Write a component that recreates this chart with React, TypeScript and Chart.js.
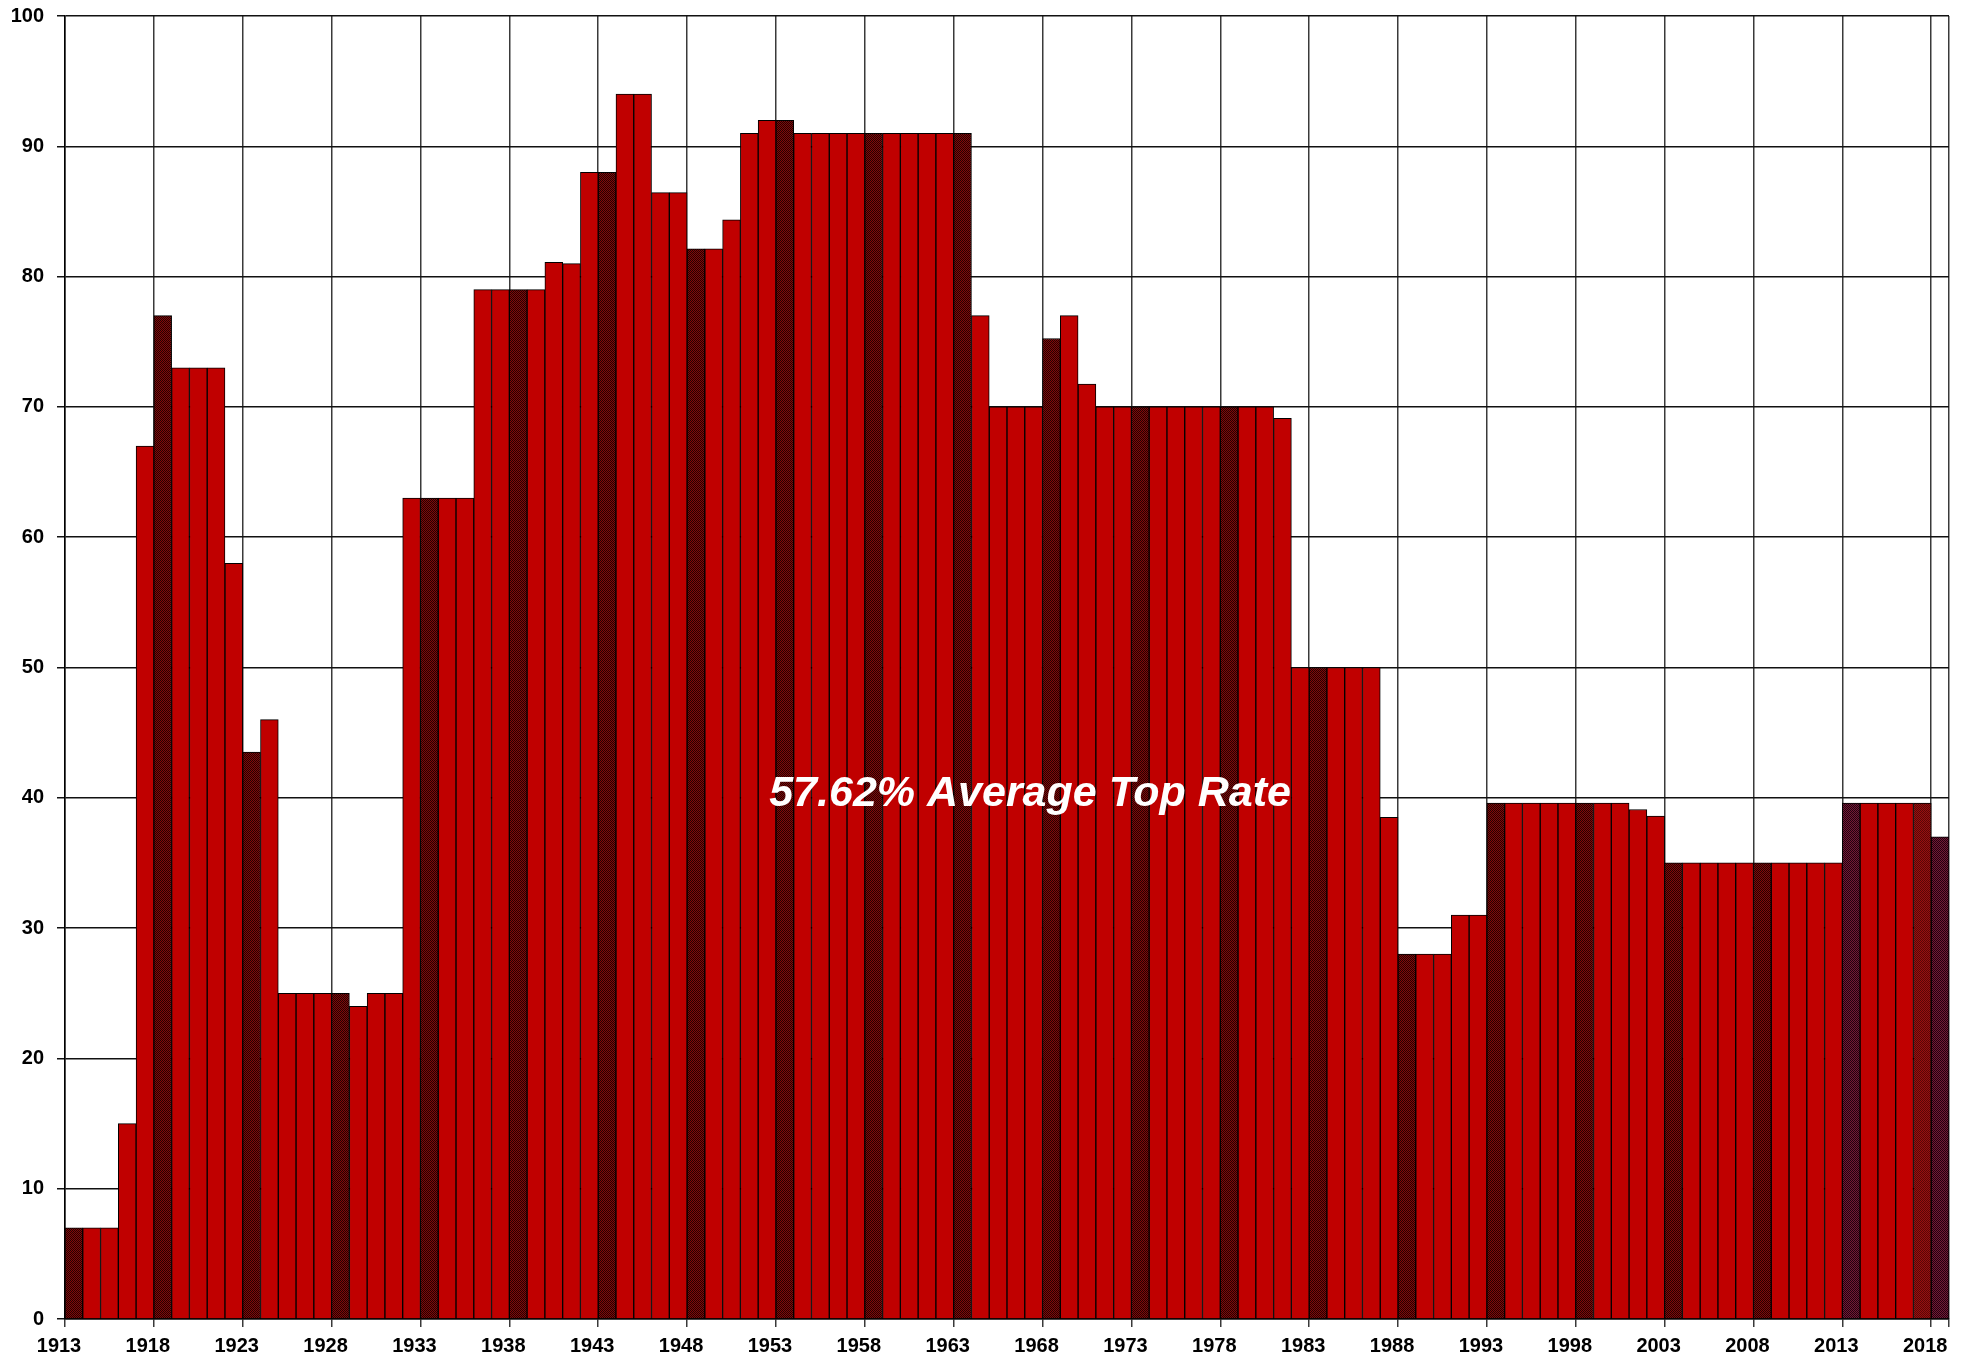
import React, { useEffect, useRef } from "react";
import { Chart, registerables } from "chart.js";

Chart.register(...registerables);

const years: number[] = [
  1913, 1914, 1915, 1916, 1917, 1918, 1919, 1920, 1921, 1922,
  1923, 1924, 1925, 1926, 1927, 1928, 1929, 1930, 1931, 1932,
  1933, 1934, 1935, 1936, 1937, 1938, 1939, 1940, 1941, 1942,
  1943, 1944, 1945, 1946, 1947, 1948, 1949, 1950, 1951, 1952,
  1953, 1954, 1955, 1956, 1957, 1958, 1959, 1960, 1961, 1962,
  1963, 1964, 1965, 1966, 1967, 1968, 1969, 1970, 1971, 1972,
  1973, 1974, 1975, 1976, 1977, 1978, 1979, 1980, 1981, 1982,
  1983, 1984, 1985, 1986, 1987, 1988, 1989, 1990, 1991, 1992,
  1993, 1994, 1995, 1996, 1997, 1998, 1999, 2000, 2001, 2002,
  2003, 2004, 2005, 2006, 2007, 2008, 2009, 2010, 2011, 2012,
  2013, 2014, 2015, 2016, 2017, 2018,
];

const topRates: number[] = [
  7, 7, 7, 15, 67, 77, 73, 73, 73, 58,
  43.5, 46, 25, 25, 25, 25, 24, 25, 25, 63,
  63, 63, 63, 79, 79, 79, 79, 81.1, 81, 88,
  88, 94, 94, 86.45, 86.45, 82.13, 82.13, 84.36, 91, 92,
  92, 91, 91, 91, 91, 91, 91, 91, 91, 91,
  91, 77, 70, 70, 70, 75.25, 77, 71.75, 70, 70,
  70, 70, 70, 70, 70, 70, 70, 70, 69.13, 50,
  50, 50, 50, 50, 38.5, 28, 28, 28, 31, 31,
  39.6, 39.6, 39.6, 39.6, 39.6, 39.6, 39.6, 39.6, 39.1, 38.6,
  35, 35, 35, 35, 35, 35, 35, 35, 35, 35,
  39.6, 39.6, 39.6, 39.6, 39.6, 37,
];

const xTickYears: number[] = [
  1913, 1918, 1923, 1928, 1933, 1938, 1943, 1948, 1953, 1958, 1963,
  1968, 1973, 1978, 1983, 1988, 1993, 1998, 2003, 2008, 2013, 2018, 2019,
];

const yTicks: number[] = [0, 10, 20, 30, 40, 50, 60, 70, 80, 90, 100];

const averageLabel = "57.62% Average Top Rate";

function makeChecker(a: string, b: string): CanvasPattern | string {
  const c = document.createElement("canvas");
  c.width = 2;
  c.height = 2;
  const ctx = c.getContext("2d");
  if (!ctx) return a;
  ctx.fillStyle = a;
  ctx.fillRect(0, 0, 2, 2);
  ctx.fillStyle = b;
  ctx.fillRect(1, 0, 1, 1);
  ctx.fillRect(0, 1, 1, 1);
  const p = ctx.createPattern(c, "repeat");
  return p || a;
}

export default function App() {
  const ref = useRef<HTMLCanvasElement | null>(null);

  useEffect(() => {
    if (!ref.current) return;
    const red = "#C00000";
    const dark = makeChecker("#260000", "#800a0a");
    const purple = makeChecker("#220010", "#741a34");
    const darkRed = makeChecker("#5a0606", "#981010");

    const colors = years.map((y) => {
      if (y === 2013 || y === 2018) return purple;
      if (y === 2017) return darkRed;
      if ((y - years[0]) % 5 === 0) return dark;
      return red;
    });

    const textPlugin = {
      id: "avgText",
      afterDatasetsDraw(chart: any) {
        const { ctx, scales } = chart;
        const x = scales.x.getPixelForValue(1967.3);
        const y = scales.y.getPixelForValue(39.4);
        ctx.save();
        ctx.font = "italic bold 43px 'Liberation Sans', Arial, sans-serif";
        ctx.fillStyle = "#ffffff";
        ctx.textAlign = "center";
        ctx.textBaseline = "alphabetic";
        ctx.fillText(averageLabel, x, y);
        ctx.restore();
      },
    };

    const chart = new Chart(ref.current, {
      type: "bar",
      data: {
        datasets: [
          {
            data: years.map((y, i) => ({ x: y + 0.5, y: topRates[i] })),
            backgroundColor: colors as any,
            borderColor: "#000000",
            borderWidth: 1,
            barPercentage: 1,
            categoryPercentage: 1,
          },
        ],
      },
      options: {
        animation: false,
        responsive: false,
        devicePixelRatio: 1,
        layout: { padding: { top: 0, right: 22, left: 0, bottom: 0 } },
        plugins: { legend: { display: false }, tooltip: { enabled: false } },
        scales: {
          x: {
            type: "linear",
            min: 1913,
            max: 2019,
            offset: false,
            afterBuildTicks: (scale: any) => {
              scale.ticks = xTickYears.map((v) => ({ value: v }));
            },
            afterFit: (scale: any) => {
              scale.height = 40;
            },
            grid: {
              color: "#3a3a3a",
              lineWidth: 1.5,
              tickLength: 8,
              offset: false,
            },
            border: { color: "#000000", width: 1.5 },
            ticks: {
              autoSkip: false,
              maxRotation: 0,
              padding: 7,
              labelOffset: -6,
              color: "#000000",
              font: { family: "'Liberation Sans', Arial, sans-serif", size: 20, weight: "bold" },
              callback: (v: any) => (Number(v) === 2019 ? "" : String(v)),
            },
          },
          y: {
            min: 0,
            max: 100,
            afterBuildTicks: (scale: any) => {
              scale.ticks = yTicks.map((v) => ({ value: v }));
            },
            afterFit: (scale: any) => {
              scale.width = 65;
              scale.paddingTop = 16;
            },
            grid: { color: "#111111", lineWidth: 1.5, tickLength: 8 },
            border: { color: "#000000", width: 1.5 },
            ticks: {
              padding: 13,
              color: "#000000",
              font: { family: "'Liberation Sans', Arial, sans-serif", size: 20, weight: "bold", lineHeight: 1 },
            },
          },
        },
      },
      plugins: [textPlugin],
    });
    return () => chart.destroy();
  }, []);

  return (
    <div style={{ position: "fixed", left: 0, top: 0, width: 1971, height: 1359, background: "#fff" }}>
      <canvas ref={ref} width={1971} height={1359} style={{ width: 1971, height: 1359, display: "block" }} />
    </div>
  );
}
